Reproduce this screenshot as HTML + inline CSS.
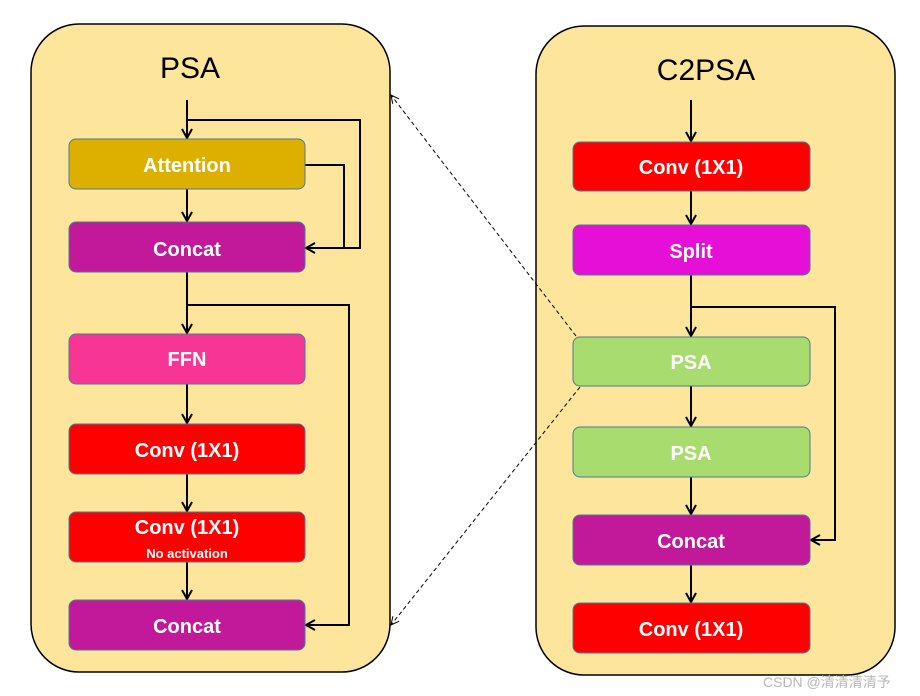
<!DOCTYPE html>
<html><head><meta charset="utf-8"><style>
body{margin:0;background:#fff;}
svg{display:block;font-family:"Liberation Sans","Noto Sans CJK SC",sans-serif;}
.t{fill:#fff;font-weight:bold;font-size:20px;text-anchor:middle;}
</style></head><body>
<svg width="920" height="696" viewBox="0 0 920 696">
<defs>
<marker id="a" markerWidth="12" markerHeight="12" refX="10" refY="6" orient="auto" markerUnits="userSpaceOnUse">
<path d="M1,1 L10,6 L1,11" fill="none" stroke="#000" stroke-width="2"/></marker>
<marker id="d" markerWidth="10" markerHeight="10" refX="9" refY="5" orient="auto" markerUnits="userSpaceOnUse">
<path d="M1,1 L9,5 L1,9" fill="none" stroke="#000" stroke-width="1"/></marker>
</defs>
<rect x="31" y="24" width="359" height="648" rx="48" fill="#fde59b" stroke="#000" stroke-width="1.5"/>
<rect x="536" y="26" width="359" height="649" rx="48" fill="#fde59b" stroke="#000" stroke-width="1.5"/>
<text x="190" y="78" font-size="30" text-anchor="middle">PSA</text>
<text x="706" y="80" font-size="30" text-anchor="middle">C2PSA</text>

<g stroke="#000" stroke-width="2" fill="none">
<line x1="187" y1="100" x2="187" y2="138" marker-end="url(#a)"/>
<polyline points="187,120 360,120 360,248 306,248" marker-end="url(#a)"/>
<polyline points="305,165 344,165 344,248"/>
<line x1="187" y1="189" x2="187" y2="221" marker-end="url(#a)"/>
<line x1="187" y1="272" x2="187" y2="333" marker-end="url(#a)"/>
<polyline points="187,305 349,305 349,625 306,625" marker-end="url(#a)"/>
<line x1="187" y1="384" x2="187" y2="423" marker-end="url(#a)"/>
<line x1="187" y1="474" x2="187" y2="511" marker-end="url(#a)"/>
<line x1="187" y1="562" x2="187" y2="599" marker-end="url(#a)"/>

<line x1="691" y1="100" x2="691" y2="141" marker-end="url(#a)"/>
<line x1="691" y1="191" x2="691" y2="224" marker-end="url(#a)"/>
<line x1="691" y1="275" x2="691" y2="336" marker-end="url(#a)"/>
<polyline points="691,307 835,307 835,540 811,540" marker-end="url(#a)"/>
<line x1="691" y1="386" x2="691" y2="426" marker-end="url(#a)"/>
<line x1="691" y1="477" x2="691" y2="514" marker-end="url(#a)"/>
<line x1="691" y1="565" x2="691" y2="602" marker-end="url(#a)"/>
</g>
<g stroke="#000" stroke-width="1" stroke-dasharray="4,3" fill="none">
<line x1="576" y1="336" x2="391" y2="95" marker-end="url(#d)"/>
<line x1="580" y1="387" x2="391" y2="625" marker-end="url(#d)"/>
</g>

<g stroke="#4a7a9a" stroke-width="1">
<rect x="69" y="139" width="236" height="50" rx="7" fill="#ddb000"/>
<rect x="69" y="222" width="236" height="50" rx="7" fill="#c2199a"/>
<rect x="69" y="334" width="236" height="50" rx="7" fill="#f73594"/>
<rect x="69" y="424" width="236" height="50" rx="7" fill="#fe0000"/>
<rect x="69" y="512" width="236" height="50" rx="7" fill="#fe0000"/>
<rect x="69" y="600" width="236" height="50" rx="7" fill="#c2199a"/>
<rect x="573" y="142" width="237" height="49" rx="7" fill="#fe0000"/>
<rect x="573" y="225" width="237" height="50" rx="7" fill="#e60fd8"/>
<rect x="573" y="337" width="237" height="49" rx="7" fill="#a8dc6e"/>
<rect x="573" y="427" width="237" height="50" rx="7" fill="#a8dc6e"/>
<rect x="573" y="515" width="237" height="50" rx="7" fill="#c2199a"/>
<rect x="573" y="603" width="237" height="50" rx="7" fill="#fe0000"/>
</g>
<text class="t" x="187" y="172">Attention</text>
<text class="t" x="187" y="256">Concat</text>
<text class="t" x="187" y="366">FFN</text>
<text class="t" x="187" y="457">Conv (1X1)</text>
<text class="t" x="187" y="534">Conv (1X1)</text>
<text class="t" x="187" y="558" style="font-size:13px">No activation</text>
<text class="t" x="187" y="633">Concat</text>
<text class="t" x="691" y="174">Conv (1X1)</text>
<text class="t" x="691" y="258">Split</text>
<text class="t" x="691" y="369">PSA</text>
<text class="t" x="691" y="460">PSA</text>
<text class="t" x="691" y="548">Concat</text>
<text class="t" x="691" y="636">Conv (1X1)</text>
<text x="763" y="687" font-size="14" fill="#b8b8b8">CSDN @清清清清予</text>
</svg>
</body></html>
